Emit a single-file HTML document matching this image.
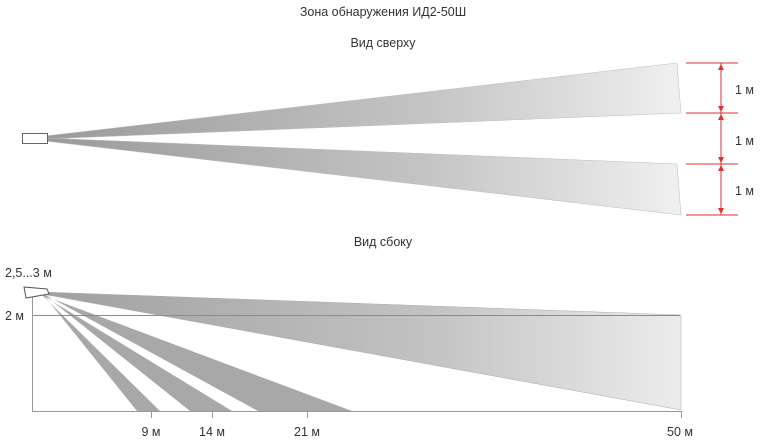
<!DOCTYPE html>
<html><head><meta charset="utf-8"><style>
body{margin:0;background:#fff}
svg{display:block;font-family:"Liberation Sans",sans-serif;font-size:12.5px;fill:#333}
</style></head><body>
<svg width="765" height="447" viewBox="0 0 765 447">
<defs>
<linearGradient id="g1" x1="0" x2="1" y1="0" y2="0"><stop offset="0" stop-color="#9a9a9a"/><stop offset="0.6" stop-color="#c4c4c4"/><stop offset="1" stop-color="#f0f0f0"/></linearGradient>
<linearGradient id="g2" x1="0" x2="1" y1="0" y2="0"><stop offset="0" stop-color="#a0a0a0"/><stop offset="0.6" stop-color="#c2c2c2"/><stop offset="1" stop-color="#ececec"/></linearGradient>
</defs>
<text x="383" y="16" text-anchor="middle">Зона обнаружения ИД2-50Ш</text>
<text x="383" y="47" text-anchor="middle">Вид сверху</text>
<text x="383" y="246" text-anchor="middle">Вид сбоку</text>
<!-- top view -->
<polygon points="45,136 677,63 681,113 45,139" fill="url(#g1)" stroke="#bbb" stroke-width="0.5"/>
<polygon points="45,138 677,164 681,215 45,141" fill="url(#g1)" stroke="#bbb" stroke-width="0.5"/>
<rect x="22.5" y="133.5" width="25" height="10" fill="#fff" stroke="#666"/>
<g stroke="#d33" stroke-width="1">
<line x1="686" y1="63" x2="738" y2="63"/><line x1="686" y1="113" x2="738" y2="113"/>
<line x1="686" y1="164" x2="738" y2="164"/><line x1="686" y1="215" x2="738" y2="215"/>
<line x1="721" y1="63" x2="721" y2="215"/>
</g>
<g fill="#d33">
<polygon points="721,64 718,70 724,70"/><polygon points="721,112 718,106 724,106"/>
<polygon points="721,114 718,120 724,120"/><polygon points="721,163 718,157 724,157"/>
<polygon points="721,165 718,171 724,171"/><polygon points="721,214 718,208 724,208"/>
</g>
<text x="735" y="94">1 м</text><text x="735" y="145">1 м</text><text x="735" y="195">1 м</text>
<!-- side view -->
<polygon points="42,292 681,315 681,410 42,294" fill="url(#g2)" stroke="#aaa" stroke-width="0.5"/>
<polygon points="42,293 258,411 352,411 42,295" fill="#a8a8a8"/>
<polygon points="42,293 190,411 232,411 42,295" fill="#a8a8a8"/>
<polygon points="42,293 137,411 160,411 42,295" fill="#a8a8a8"/>
<line x1="33" y1="315.5" x2="680" y2="315.5" stroke="#d86a6a" stroke-width="1"/>
<g stroke="#999" stroke-width="1">
<line x1="32.5" y1="297" x2="32.5" y2="412"/>
<line x1="32" y1="411.5" x2="681" y2="411.5"/>
<line x1="151.5" y1="411" x2="151.5" y2="418"/><line x1="212.5" y1="411" x2="212.5" y2="418"/>
<line x1="307.5" y1="411" x2="307.5" y2="418"/><line x1="681.5" y1="411" x2="681.5" y2="418"/>
</g>
<polygon points="24,287 47,289 49,294 26,298" fill="#fff" stroke="#555"/>
<text x="5" y="277">2,5...3 м</text>
<text x="5" y="320">2 м</text>
<text x="151" y="436" text-anchor="middle">9 м</text>
<text x="212" y="436" text-anchor="middle">14 м</text>
<text x="307" y="436" text-anchor="middle">21 м</text>
<text x="680" y="436" text-anchor="middle">50 м</text>
</svg>
</body></html>
